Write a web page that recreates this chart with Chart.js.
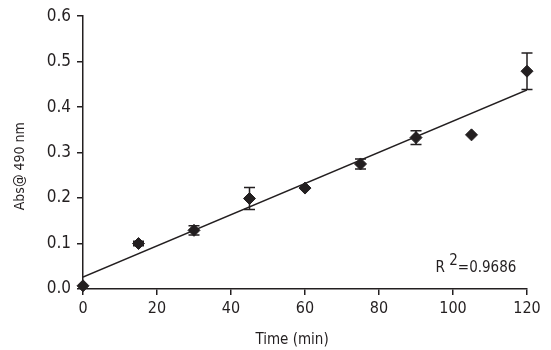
<!DOCTYPE html>
<html>
<head>
<meta charset="utf-8">
<script src="https://cdn.jsdelivr.net/npm/chart.js@4/dist/chart.umd.min.js"></script>
<style>
  body { margin: 0; background: #fff; }
  #wrap { width: 551px; height: 350px; }
</style>
</head>
<body>
<div id="wrap"><canvas id="canvas" width="551" height="350"></canvas></div>
<script>
// values
const times = [0, 15, 30, 45, 60, 75, 90, 105, 120]
const absorbance = [0.007, 0.100, 0.129, 0.199, 0.222, 0.275, 0.333, 0.339, 0.479]
const errors = [0, 0.005, 0.010, 0.024, 0, 0.011, 0.015, 0, 0.040]
const fitX = [0, 120]
const fitY = [0.026, 0.438]
const r2Text = "0.9686"
const xTitle = "Time (min)"
const yTitle = "Abs@ 490 nm"

const fontFamily = "'Liberation Sans Narrow', 'DejaVu Sans Condensed', 'Liberation Sans', Arial, sans-serif"
const ink = "#231f20"

const points = times.map((t, i) => ({ x: t, y: absorbance[i] }))
const fitLine = fitX.map((t, i) => ({ x: t, y: fitY[i] }))

// error bars, drawn from the scales
const errorBars = {
  id: "errorBars",
  afterDatasetsDraw(chart) {
    const ctx = chart.ctx
    const xs = chart.scales.x
    const ys = chart.scales.y
    ctx.save()
    ctx.strokeStyle = ink
    ctx.lineWidth = 1.5
    for (let i = 0; i < times.length; i++) {
      if (!errors[i]) continue
      const px = xs.getPixelForValue(times[i])
      const top = ys.getPixelForValue(absorbance[i] + errors[i])
      const bottom = ys.getPixelForValue(absorbance[i] - errors[i])
      ctx.beginPath()
      ctx.moveTo(px, top)
      ctx.lineTo(px, bottom)
      ctx.moveTo(px - 5.5, top)
      ctx.lineTo(px + 5.5, top)
      ctx.moveTo(px - 5.5, bottom)
      ctx.lineTo(px + 5.5, bottom)
      ctx.stroke()
    }
    ctx.restore()
  }
}

// R^2 label and axis titles (the originals sit a bit off-centre)
const labels = {
  id: "labels",
  afterDraw(chart) {
    const ctx = chart.ctx
    const xs = chart.scales.x
    const ys = chart.scales.y
    ctx.save()
    ctx.fillStyle = ink
    ctx.textBaseline = "middle"
    ctx.font = "15px " + fontFamily
    let px = xs.getPixelForValue(95.3)
    const py = ys.getPixelForValue(0.045)
    ctx.fillText("R", px, py)
    px += ctx.measureText("R ").width
    ctx.fillText("2", px, py - 7)
    px += ctx.measureText("2").width
    ctx.fillText("=" + r2Text, px, py)

    ctx.textAlign = "center"
    ctx.fillText(xTitle, xs.getPixelForValue(56.5), 340)

    ctx.font = "14px " + fontFamily
    ctx.translate(20, ys.getPixelForValue(0.27))
    ctx.rotate(-Math.PI / 2)
    ctx.fillText(yTitle, 0, 0)
    ctx.restore()
  }
}

new Chart(document.getElementById("canvas"), {
  type: "scatter",
  data: {
    datasets: [
      {
        type: "line",
        data: fitLine,
        borderColor: ink,
        borderWidth: 1.5,
        pointRadius: 0,
        fill: false,
        order: 2
      },
      {
        data: points,
        backgroundColor: ink,
        borderColor: ink,
        pointStyle: "rectRot",
        pointRadius: 6,
        pointHoverRadius: 6,
        clip: false,
        order: 1
      }
    ]
  },
  options: {
    responsive: false,
    animation: false,
    layout: { padding: { top: 15, right: 24, bottom: 4, left: 10 } },
    plugins: { legend: { display: false }, tooltip: { enabled: false } },
    scales: {
      x: {
        type: "linear",
        min: 0,
        max: 120,
        ticks: { stepSize: 20, color: ink, font: { family: fontFamily, size: 16 }, padding: 4 },
        grid: { drawOnChartArea: false, drawTicks: true, tickLength: 6, color: ink, lineWidth: 1.5 },
        border: { color: ink, width: 1.5 },
        afterFit(scale) { scale.height = 57 }
      },
      y: {
        type: "linear",
        min: 0,
        max: 0.6,
        ticks: {
          stepSize: 0.1,
          color: ink,
          font: { family: fontFamily, size: 17 },
          padding: 6,
          callback: (v) => v.toFixed(1)
        },
        grid: { drawOnChartArea: false, drawTicks: true, tickLength: 6, color: ink, lineWidth: 1.5 },
        border: { color: ink, width: 1.5 },
        afterFit(scale) { scale.width = 73 }
      }
    }
  },
  plugins: [errorBars, labels]
})
</script>
</body>
</html>
